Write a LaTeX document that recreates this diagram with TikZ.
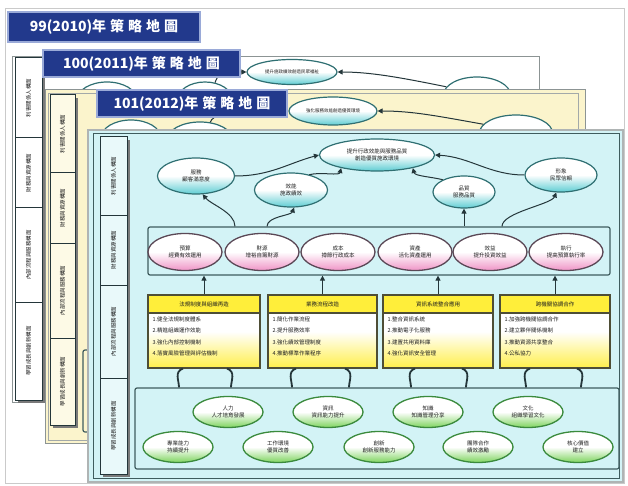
\documentclass[tikz,border=0pt]{standalone}
\usepackage{fontspec}
\newfontfamily\cjk{Noto Sans CJK TC}
\usetikzlibrary{shapes.geometric,arrows.meta,calc}
\definecolor{navy}{HTML}{22398C}
\definecolor{navyedge}{HTML}{9AAAD8}
\definecolor{panelcyan}{HTML}{D3F3F6}
\definecolor{panelyellow}{HTML}{FBF4CC}
\definecolor{framegray}{HTML}{8C9494}
\definecolor{outerline}{HTML}{CACACA}
\definecolor{darkline}{HTML}{24363A}
\definecolor{teal3}{HTML}{3F5C5E}
\definecolor{shadowgray}{HTML}{7A7A7A}
\definecolor{custedge}{HTML}{2F6F72}
\definecolor{custfill}{HTML}{5FCDD3}
\definecolor{pinkedge}{HTML}{5A4856}
\definecolor{pinkfill}{HTML}{EF94C6}
\definecolor{greenedge}{HTML}{3A8A3C}
\definecolor{greenfill}{HTML}{7ED45E}
\definecolor{yhead}{HTML}{FFEE3A}
\definecolor{ybodyc}{HTML}{FFEF4A}
\definecolor{yedge}{HTML}{4E4E36}
\definecolor{textdark}{HTML}{202020}
\newcommand{\maptitle}[1]{#1年\hspace{4pt}策\hspace{4pt}略\hspace{4pt}地\hspace{4pt}圖}
\tikzset{
  titlebox/.style={draw=navyedge, line width=1.2pt, fill=navy, text=white, inner sep=0pt,
    font=\cjk\bfseries\fontsize{14}{14}\selectfont},
  colbox/.style={draw=darkline, line width=1pt},
  collabel/.style={rotate=90, inner sep=0pt, text=textdark, font=\cjk\fontsize{5.5}{6}\selectfont},
  custell/.style={ellipse, draw=custedge, line width=1.2pt, top color=white, bottom color=custfill,
    middle color=white, inner sep=0pt, align=center, text=textdark, font=\cjk\fontsize{5.5}{6.5}\selectfont},
  pinkell/.style={ellipse, draw=pinkedge, line width=1.3pt, top color=white, bottom color=pinkfill,
    middle color=white, inner sep=0pt, align=center, text=textdark, font=\cjk\fontsize{5.5}{6.5}\selectfont,
    minimum width=74pt, minimum height=37pt},
  greenell/.style={ellipse, draw=greenedge, line width=1.3pt, top color=white, bottom color=greenfill,
    middle color=white, inner sep=0pt, align=center, text=textdark, font=\cjk\fontsize{5.5}{6.5}\selectfont,
    minimum width=70pt, minimum height=31pt},
  container/.style={draw=teal3, line width=1.2pt, rounded corners=2pt, fill=panelcyan, inner sep=0pt},
  ybody/.style={draw=yedge, line width=1.2pt, top color=white, bottom color=ybodyc, middle color=white,
    inner sep=0pt, minimum height=73pt},
  yhead/.style={draw=yedge, line width=1.2pt, fill=yhead, inner sep=0pt, minimum height=18pt,
    anchor=north, text=textdark, font=\cjk\fontsize{5.5}{5.5}\selectfont},
  yitems/.style={align=left, anchor=north west, inner sep=0pt, text=textdark,
    font=\cjk\fontsize{5.5}{11.3}\selectfont},
  arr/.style={draw=darkline, line width=1pt, -{Triangle[length=5pt,width=5pt]}},
  curly/.style={draw=darkline, line width=1.8pt},
}
\newcommand{\perspcol}[9]{%
  \fill[shadowgray] (#1+3,#3+3) rectangle (#2+3,#7+3);
  \foreach \ya/\yb/\lab [count=\i] in {#3/#4/利害關係人構面, #4/#5/財務與資源構面, #5/#6/內部流程與服務構面, #6/#7/學習成長與創新構面} {
    \draw[colbox, fill=#8] (#1,\ya) rectangle (#2,\yb);
    \node[collabel] (lab#9\i) at ({(#1+#2)/2},{(\ya+\yb)/2}) {\lab};
  }
}
\begin{document}
\begin{tikzpicture}[x=1pt,y=-1pt]
\useasboundingbox (0,0) rectangle (628,486);
\fill[white] (0,0) rectangle (628,486);
\draw[outerline, line width=1pt] (5,9) rectangle (624,483);

% ---------- 99 ----------
\node[titlebox, minimum width=192pt, minimum height=30pt] (T99) at (104,27) {\maptitle{99(2010)}};
\draw[framegray, line width=1pt, fill=white] (12,57) rectangle (539,402);
\node[custell, minimum width=60pt, minimum height=36pt] (e99a) at (107,100) {};
\node[custell, minimum width=55pt, minimum height=36pt] (e99b) at (205,100) {};
\node[custell, minimum width=67pt, minimum height=36pt] (e99c) at (477,95) {};
\node[custell, minimum width=90pt, minimum height=25pt, font=\cjk\fontsize{4.5}{5}\selectfont] (e99t) at (292,72) {提升施政績效創造民眾福祉};
\draw[arr] (e99c.165) .. controls +(-40,-8) and +(35,0) .. (e99t.east);
\draw[arr] (e99b.60) .. controls +(5,-15) and +(-15,0) .. (e99t.west);
\perspcol{15}{42}{58}{138}{208}{302}{400}{white}{a}

% ---------- 100 ----------
\draw[framegray, line width=1pt, fill=panelyellow] (45,90) rectangle (585,443);
\draw[framegray!80, line width=0.8pt] (48,93) rectangle (578,440);
\node[custell, minimum width=60pt, minimum height=36pt] (e100a) at (131,138) {};
\node[custell, minimum width=66pt, minimum height=36pt] (e100b) at (200,140) {};
\node[custell, minimum width=73pt, minimum height=36pt] (e100c) at (516,133) {};
\node[custell, minimum width=88pt, minimum height=28pt, font=\cjk\fontsize{4.5}{5}\selectfont] (e100t) at (333,111) {強化服務效能創造優質環境};
\draw[arr] (e100c.165) .. controls +(-45,-8) and +(35,0) .. (e100t.east);
\draw[arr] (e100b.60) .. controls +(5,-15) and +(-20,0) .. (e100t.west);
\node[container, fill=panelyellow, minimum width=497pt, minimum height=82pt] (LC100) at (331.5,391) {};
\perspcol{50}{75}{95}{173}{243}{338}{425}{panelyellow!50!white}{b}
\node[titlebox, minimum width=197pt, minimum height=27pt] (T100) at (141.5,63.5) {\maptitle{100(2011)}};

% ---------- 101 ----------
\draw[draw=framegray!70, line width=1.5pt, fill=panelcyan] (88,130) rectangle (623,482);
\draw[teal3, line width=1pt] (93,134) rectangle (619,478);
\perspcol{100}{127}{137}{215}{285}{378}{474}{panelcyan!50!white}{c}
\node[titlebox, minimum width=190pt, minimum height=27pt] (T101) at (192,103.5) {\maptitle{101(2012)}};

% stakeholder layer
\node[custell, minimum width=115pt, minimum height=32pt] (T) at (377,155) {提升行政效能與服務品質\\創造優質施政環境};
\node[custell, minimum width=77pt, minimum height=36pt] (C1) at (196,176) {服務\\顧客滿意度};
\node[custell, minimum width=73pt, minimum height=34pt] (C2) at (291,190) {效能\\施政績效};
\node[custell, minimum width=62pt, minimum height=32pt] (C3) at (464,192) {品質\\服務品質};
\node[custell, minimum width=72pt, minimum height=34pt] (C4) at (561,175) {形象\\民眾信賴};

% financial layer
\node[container, minimum width=462pt, minimum height=48pt] (PC) at (379,251) {};
\node[pinkell] (P1) at (185,252) {預算\\經費有效運用};
\node[pinkell] (P2) at (262,252) {財源\\增裕自籌財源};
\node[pinkell] (P3) at (338,252) {成本\\撙節行政成本};
\node[pinkell] (P4) at (415,252) {資產\\活化資產運用};
\node[pinkell] (P5) at (490,252) {效益\\提升投資效益};
\node[pinkell] (P6) at (566,252) {執行\\提高預算執行率};

% internal process layer
\node[ybody, minimum width=112pt] (Y1) at (204,331.5) {};
\node[ybody, minimum width=109pt] (Y2) at (322.5,331.5) {};
\node[ybody, minimum width=110pt] (Y3) at (438,331.5) {};
\node[ybody, minimum width=110pt] (Y4) at (555,331.5) {};
\node[yhead, minimum width=112pt] (Yh1) at (Y1.north) {法規制度與組織再造};
\node[yhead, minimum width=109pt] (Yh2) at (Y2.north) {業務流程改造};
\node[yhead, minimum width=110pt] (Yh3) at (Y3.north) {資訊系統整合應用};
\node[yhead, minimum width=110pt] (Yh4) at (Y4.north) {跨機關協調合作};
\node[yitems] (Yt1) at ($(Yh1.south west)+(5,3)$) {1.健全法規制度體系\\2.精進組織運作效能\\3.強化內部控制機制\\4.落實風險管理與評估機制};
\node[yitems] (Yt2) at ($(Yh2.south west)+(5,3)$) {1.簡化作業流程\\2.提升服務效率\\3.強化績效管理制度\\4.推動標準作業程序};
\node[yitems] (Yt3) at ($(Yh3.south west)+(5,3)$) {1.整合資訊系統\\2.推動電子化服務\\3.建置共用資料庫\\4.強化資訊安全管理};
\node[yitems] (Yt4) at ($(Yh4.south west)+(5,3)$) {1.加強跨機關協調合作\\2.建立夥伴關係機制\\3.推動資源共享整合\\4.公私協力};

% learning & growth layer
\node[container, minimum width=484pt, minimum height=81pt] (LC) at (377,428.5) {};
\node[greenell] (G1) at (228,412) {人力\\人才培育發展};
\node[greenell] (G2) at (328,412) {資訊\\資訊能力提升};
\node[greenell] (G3) at (428,412) {知識\\知識管理分享};
\node[greenell] (G4) at (528,412) {文化\\組織學習文化};
\node[greenell] (G5) at (178,447) {專業能力\\持續提升};
\node[greenell] (G6) at (278,447) {工作環境\\優質改善};
\node[greenell] (G7) at (379,447) {創新\\創新服務能力};
\node[greenell] (G8) at (478,447) {團隊合作\\績效激勵};
\node[greenell] (G9) at (578,447) {核心價值\\建立};

% connectors
\draw[arr] (235,0 |- PC.north) .. controls +(0,-14) and +(8,10) .. (C1.-70);
\draw[arr] (267,0 |- PC.north) .. controls +(0,-10) and +(-3,8) .. (C2.-80);
\draw[arr] (C3.south |- PC.north) -- (C3.south);
\draw[arr] (502,0 |- PC.north) .. controls +(0,-14) and +(-5,12) .. (C4.-105);
\draw[arr] (C1.east) .. controls +(35,0) and +(-30,8) .. (T.west);
\draw[arr] (C2.40) .. controls +(12,-3) and +(-2,8) .. (T.200);
\draw[arr] (C3.150) .. controls +(-12,-3) and +(2,8) .. (T.340);
\draw[arr] (C4.west) .. controls +(-35,0) and +(35,2) .. (T.east);
\foreach \b in {1,...,4} \draw[arr] (Yh\b.north) -- (Yh\b.north |- PC.south);
\foreach \b/\xl/\xr in {1/180/230, 2/293/348, 3/412/465, 4/527/580} {
  \draw[curly] (\xl+3,0 |- Y\b.south) .. controls +(-9,3) and +(0,-7) .. (\xl-1,0 |- LC.north);
  \draw[curly] (\xr-3,0 |- Y\b.south) .. controls +(9,3) and +(0,-7) .. (\xr+1,0 |- LC.north);
}
\end{tikzpicture}
\end{document}
